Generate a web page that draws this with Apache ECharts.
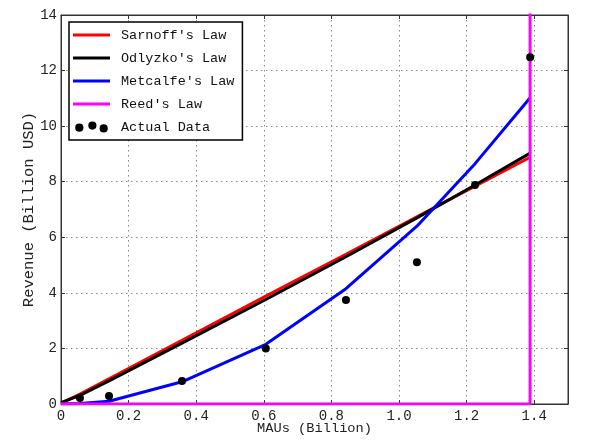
<!DOCTYPE html>
<html>
<head>
<meta charset="utf-8">
<script src="https://cdn.jsdelivr.net/npm/echarts@6/dist/echarts.min.js"></script>
<style>
html,body{margin:0;padding:0;background:#fff;}
#chart{width:589px;height:445px;}
</style>
</head>
<body>
<div id="chart"></div>
<script>
// MAUs (Billion) at which each value was read
const mauX = [0, 0.056, 0.142, 0.358, 0.606, 0.843, 1.053, 1.225, 1.388];
const sarnoff = [0.02, 0.36, 0.91, 2.29, 3.88, 5.39, 6.74, 7.84, 8.88];
const odlyzko = [0.05, 0.31, 0.83, 2.19, 3.76, 5.30, 6.70, 7.88, 9.03];
const metcalfe = [0, 0.02, 0.10, 0.80, 2.15, 4.15, 6.40, 8.65, 11.02];
// Reed's Law stays ~0 and shoots off the chart at the last point
const reedX = [0, 0.056, 0.142, 0.358, 0.606, 0.843, 1.053, 1.225, 1.3879, 1.388];
const reed = [0, 0, 0, 0, 0, 0, 0, 0, 0, 100000];
// Actual data points
const actualX = [0.056, 0.142, 0.358, 0.606, 0.843, 1.053, 1.225, 1.388];
const actualY = [0.22, 0.29, 0.83, 2.00, 3.74, 5.10, 7.88, 12.48];
const xTicks = [0, 0.2, 0.4, 0.6, 0.8, 1.0, 1.2, 1.4];
const yTicks = [0, 2, 4, 6, 8, 10, 12, 14];
const seriesNames = ["Sarnoff's Law", "Odlyzko's Law", "Metcalfe's Law", "Reed's Law", "Actual Data"];

const pair = (xs, ys) => xs.map((x, i) => [x, ys[i]]);
const mono = 'Liberation Mono';
const axisCol = '#333';
const dotsIcon = 'path://M0,6a4,4 0 1,0 8,0a4,4 0 1,0 -8,0Z M12.7,4a4,4 0 1,0 8,0a4,4 0 1,0 -8,0Z M23.7,6.7a4,4 0 1,0 8,0a4,4 0 1,0 -8,0Z';
const lineIcon = 'path://M0,0h37v3h-37Z';

const xFmt = v => {
  if (Math.abs(v - 1.5) < 1e-6) return '';
  if (v === 0) return '0';
  return v.toFixed(1);
};

const baseX = {
  type: 'value', min: 0, max: 1.5, interval: 0.2,
  axisLine: { show: true, onZero: false, lineStyle: { color: axisCol, width: 1 } },
  axisTick: { show: true, inside: true, length: 4, lineStyle: { color: axisCol } },
};
const baseY = {
  type: 'value', min: 0, max: 14, interval: 2,
  axisLine: { show: true, onZero: false, lineStyle: { color: axisCol, width: 1 } },
  axisTick: { show: true, inside: true, length: 4, lineStyle: { color: axisCol } },
};

const lineSeries = (name, data, color) => ({
  name, type: 'line', data, xAxisIndex: 0, yAxisIndex: 0,
  symbol: 'none', showSymbol: false, smooth: false,
  lineStyle: { color, width: 3 }, itemStyle: { color },
  animation: false
});

const chart = echarts.init(document.getElementById('chart'));
chart.setOption({
  backgroundColor: '#fff',
  animation: false,
  grid: { left: 61, top: 15, right: 21, bottom: 41, outerBoundsMode: 'none', containLabel: false, show: true, borderColor: axisCol, borderWidth: 1, backgroundColor: 'transparent' },
  xAxis: [
    Object.assign({}, baseX, {
      position: 'bottom',
      name: 'MAUs (Billion)', nameLocation: 'middle', nameGap: 17, nameMoveOverlap: false,
      nameTextStyle: { fontFamily: mono, fontSize: 13.7, color: '#222' },
      axisLabel: { show: true, margin: 5, fontFamily: mono, fontSize: 14, color: '#222', formatter: xFmt, customValues: xTicks },
      splitLine: { show: true, lineStyle: { type: [1.5, 3.5], color: '#888', width: 1 } }
    }),
    Object.assign({}, baseX, {
      position: 'top',
      axisLabel: { show: false },
      splitLine: { show: false }
    })
  ],
  yAxis: [
    Object.assign({}, baseY, {
      position: 'left',
      name: 'Revenue (Billion USD)', nameLocation: 'middle', nameGap: 24, nameRotate: 90, nameMoveOverlap: false,
      nameTextStyle: { fontFamily: mono, fontSize: 15.5, color: '#222' },
      axisLabel: { show: true, margin: 4, fontFamily: mono, fontSize: 14, color: '#222', customValues: yTicks },
      splitLine: { show: true, lineStyle: { type: [1.5, 3.5], color: '#888', width: 1 } }
    }),
    Object.assign({}, baseY, {
      position: 'right',
      axisLabel: { show: false },
      splitLine: { show: false }
    })
  ],
  legend: {
    orient: 'vertical', left: 69, top: 22,
    padding: [6, 8, 6, 4],
    itemWidth: 37, itemHeight: 11, itemGap: 9,
    borderColor: '#000', borderWidth: 1.5, backgroundColor: '#fff',
    textStyle: { fontFamily: mono, fontSize: 13.5, color: '#111', padding: [0, 0, 0, 6] },
    data: [
      { name: seriesNames[0], icon: lineIcon },
      { name: seriesNames[1], icon: lineIcon },
      { name: seriesNames[2], icon: lineIcon },
      { name: seriesNames[3], icon: lineIcon },
      { name: seriesNames[4], icon: dotsIcon }
    ],
    z: 10
  },
  series: [
    lineSeries(seriesNames[0], pair(mauX, sarnoff), '#ff0000'),
    lineSeries(seriesNames[1], pair(mauX, odlyzko), '#000000'),
    lineSeries(seriesNames[2], pair(mauX, metcalfe), '#0000ff'),
    lineSeries(seriesNames[3], pair(reedX, reed), '#ff00ff'),
    {
      name: seriesNames[4], type: 'scatter', data: pair(actualX, actualY),
      symbol: 'circle', symbolSize: 8, itemStyle: { color: '#000', opacity: 1 },
      z: 3
    }
  ]
});
</script>
</body>
</html>
